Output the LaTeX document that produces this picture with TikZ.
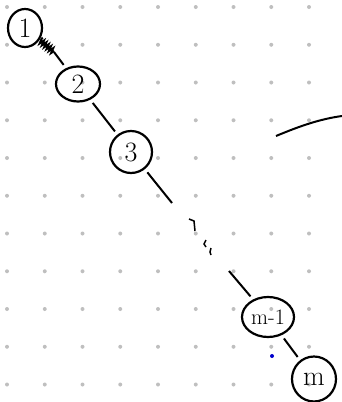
\documentclass[tikz,border=0pt]{standalone}
\usepackage{amsmath}
\usetikzlibrary{shapes.geometric,decorations.pathmorphing}

\begin{document}
\begin{tikzpicture}[x=1pt, y=-1pt,
    vert/.style={draw, black, line width=2.2pt, ellipse, inner sep=0pt, font=\fontsize{28}{28}\selectfont},
    link/.style={black, line width=2pt, shorten <=4pt, shorten >=4pt}]
    \useasboundingbox (0,0) rectangle (342,402);
    % Below is the dotted paper.
        \foreach \i in {0,...,8}
            \foreach \j in {0,...,10}
                \fill[black!25] (7+37.75*\i, 7+37.75*\j) circle (2);
    % Below nodes are the vertices.
        \node[vert, minimum width=34pt, minimum height=38pt] (v1) at (25, 28) {1};
        \node[vert, minimum width=44pt, minimum height=35pt] (v2) at (78, 84) {2};
        \node[vert, minimum width=42pt, minimum height=42pt] (v3) at (131, 152) {3};
        \node[vert, minimum width=52pt, minimum height=40pt, font=\fontsize{22}{22}\selectfont] (vm1) at (268, 317) {m-1};
        \node[vert, minimum width=44pt, minimum height=45pt] (vm) at (314, 379) {m};
        \coordinate (h) at (54, 52);
        \coordinate (g1) at (172, 203);
        \coordinate (g2) at (229, 271);
    % This draws the path.
        \draw[link, shorten >=0pt, decorate, decoration={zigzag, amplitude=2.5pt, segment length=3pt}] (v1) -- (h);
        \draw[link, shorten <=0pt] (h) -- (v2);
        \draw[link] (v2) -- (v3);
        \draw[link, shorten >=0pt] (v3) -- (g1);
        \draw[link, shorten <=0pt] (g2) -- (vm1);
        \draw[link] (vm1) -- (vm);
    % The gap marks.
        \draw[line width=1.5pt] (189,219) -- (194,221) -- (195,231);
        \draw[line width=1.5pt] (206,240) -- (204,244) -- (206,247);
        \draw[line width=1.5pt] (211,248) -- (210,252) -- (211,255);
    % Stray stroke and dot.
        \draw[line width=2pt] (276,136) .. controls (300,126) and (320,119) .. (342,116);
        \fill[blue!80!black] (272,356) circle (2);
\end{tikzpicture}
\end{document}
